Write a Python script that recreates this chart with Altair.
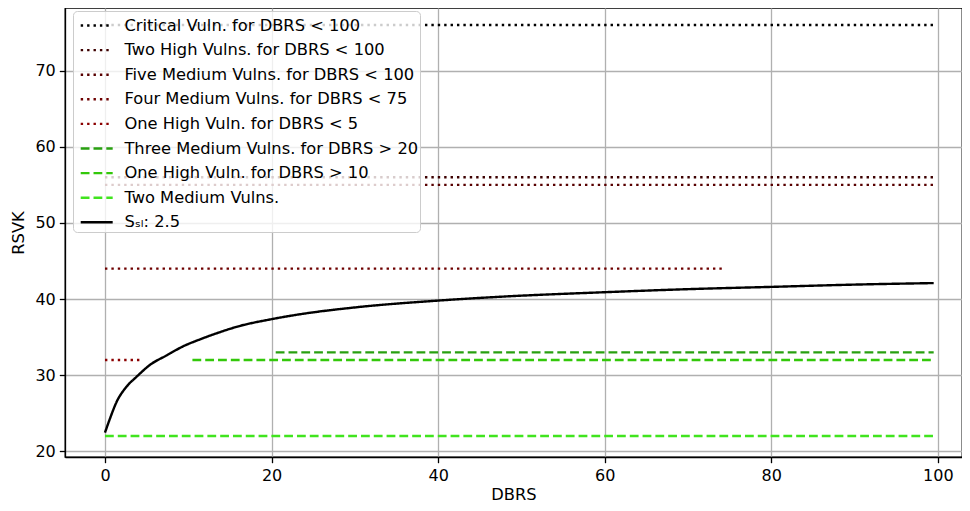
import altair as alt
import pandas as pd

# Horizontal threshold series
labels = [
    "Critical Vuln. for DBRS < 100",
    "Two High Vulns. for DBRS < 100",
    "Five Medium Vulns. for DBRS < 100",
    "Four Medium Vulns. for DBRS < 75",
    "One High Vuln. for DBRS < 5",
    "Three Medium Vulns. for DBRS > 20",
    "One High Vuln. for DBRS > 10",
    "Two Medium Vulns.",
]
levels = [76, 56, 55, 44, 32, 33, 32, 22]
x_start = [0, 0, 0, 0, 0, 20.5, 10.5, 0]
x_end = [99.5, 99.5, 99.5, 74.5, 4.5, 99.5, 99.5, 99.5]

# Curve S_sl: 2.5
curve_label = "Sₛₗ: 2.5"
curve_x = [0, 0.6, 1.4, 2.6, 3.8, 5.4, 7.4, 9.4, 11.4, 13.4, 15.8, 20.2, 23.4,
           30, 40, 47.4, 60, 70, 80, 90, 99.5]
curve_y = [22.45, 24.3, 26.5, 28.5, 29.8, 31.35, 32.6, 33.8, 34.7, 35.5, 36.35,
           37.4, 38.0, 38.9, 39.8, 40.3, 40.9, 41.3, 41.6, 41.9, 42.1]

colors = ["#000000", "#3d0000", "#580000", "#6e0000", "#8b0000",
          "#28a010", "#33c80a", "#40e41e", "#000000"]
dot = [2.4, 4.0]
dash = [8.8, 4.0]
dashes = [dot, dot, dot, dot, dot, dash, dash, dash, [1, 0]]

rows = []
for i, lab in enumerate(labels):
    rows.append({"series": lab, "x": x_start[i], "y": levels[i], "o": 0})
    rows.append({"series": lab, "x": x_end[i], "y": levels[i], "o": 1})
for j, (cx, cy) in enumerate(zip(curve_x, curve_y)):
    rows.append({"series": curve_label, "x": cx, "y": cy, "o": j})
df = pd.DataFrame(rows)

domain = labels + [curve_label]

chart = alt.Chart(df).mark_line(strokeWidth=2.4, interpolate="monotone", clip=True).encode(
    x=alt.X("x:Q", title="DBRS",
            scale=alt.Scale(domain=[-4.8, 102.9], nice=False, zero=False),
            axis=alt.Axis(values=[0, 20, 40, 60, 80, 100], format="d")),
    y=alt.Y("y:Q", title="RSVK",
            scale=alt.Scale(domain=[19.25, 78.24], nice=False, zero=False),
            axis=alt.Axis(values=[20, 30, 40, 50, 60, 70], format="d")),
    color=alt.Color("series:N", scale=alt.Scale(domain=domain, range=colors),
                    sort=domain, title=None),
    strokeDash=alt.StrokeDash("series:N", scale=alt.Scale(domain=domain, range=dashes),
                              sort=domain, title=None),
    order="o:Q",
    detail="series:N",
).properties(
    width=897, height=449,
    autosize=alt.AutoSizeParams(type="none"),
    padding={"left": 57, "top": 0, "right": 0, "bottom": 46},
).configure_view(
    stroke="black", strokeWidth=1.3
).configure_axis(
    labelFont="DejaVu Sans", titleFont="DejaVu Sans",
    labelFontSize=16, titleFontSize=16.3, labelColor="black", titleColor="black",
    titleFontWeight="normal",
    domainColor="black", domainWidth=1.3,
    tickColor="black", tickSize=5.7, tickWidth=1.3,
    gridColor="#b0b0b0", gridWidth=1.3, labelPadding=4,
).configure_axisX(
    titlePadding=3, labelPadding=5,
).configure_axisY(
    titlePadding=8,
).configure_legend(
    orient="none", legendX=8, legendY=3,
    fillColor="rgba(255,255,255,0.8)", strokeColor="#cccccc", cornerRadius=4,
    padding=1, labelFont="DejaVu Sans", labelFontSize=16.3, labelColor="black",
    symbolType="M-1.3,0H1.3", symbolSize=605, symbolStrokeWidth=2.4,
    symbolFillColor="transparent",
    symbolOffset=9.2, labelOffset=14.2, rowPadding=2.6, labelLimit=400,
)

chart.save("out.html", embed_options={"renderer": "svg", "actions": False})
